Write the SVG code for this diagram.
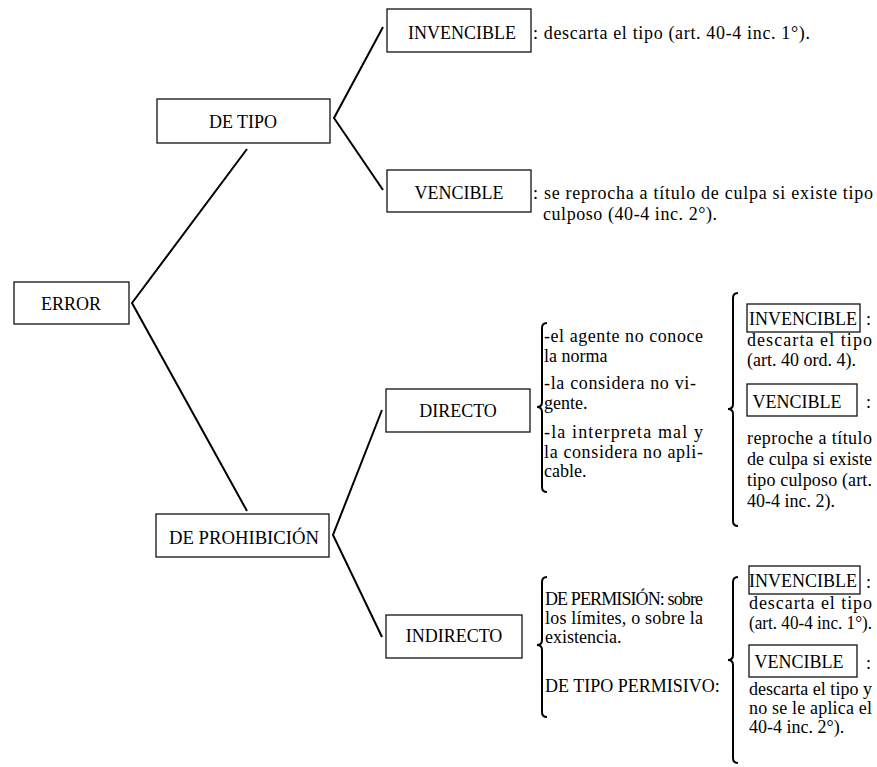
<svg xmlns="http://www.w3.org/2000/svg" width="877" height="767" viewBox="0 0 877 767">
<style>
.bg{fill:#fff}
.box{fill:#fff;stroke:#111;stroke-width:1.3}
.conn{fill:none;stroke:#000;stroke-width:2;stroke-linejoin:miter}
.brace{fill:none;stroke:#000;stroke-width:2}
text{font-family:"Liberation Serif","Times New Roman",serif;font-size:18px;fill:#000}
.lbl{text-anchor:middle}
.sm{font-size:17px}
</style>
<rect class="bg" x="0" y="0" width="877" height="767"/>
<g id="connectors">
<polyline class="conn" points="247,149 132,303 247,511"/>
<polyline class="conn" points="383,27 334,118 383,190"/>
<polyline class="conn" points="382,410 333,535 382,637"/>
</g>
<g id="error"><rect class="box" x="14" y="282" width="115" height="42"/><text class="lbl" x="71" y="310">ERROR</text></g>
<g id="de-tipo"><rect class="box" x="157" y="99" width="173" height="44"/><text class="lbl" x="243" y="128">DE TIPO</text></g>
<g id="invencible-tipo"><rect class="box" x="387" y="9" width="144" height="43"/><text class="lbl" x="462" y="39">INVENCIBLE</text>
<text x="533" y="39" textLength="277" lengthAdjust="spacing">: descarta el tipo (art. 40-4 inc. 1°).</text></g>
<g id="vencible-tipo"><rect class="box" x="387" y="170" width="144" height="42"/><text class="lbl" x="459" y="199">VENCIBLE</text>
<text x="533" y="199" textLength="340" lengthAdjust="spacing">: se reprocha a título de culpa si existe tipo</text>
<text x="543" y="220" textLength="174" lengthAdjust="spacing">culposo (40-4 inc. 2°).</text></g>
<g id="de-prohibicion"><rect class="box" x="156" y="514" width="173" height="43"/><text class="lbl" x="244" y="544" textLength="150" lengthAdjust="spacingAndGlyphs">DE PROHIBICIÓN</text></g>
<g id="directo"><rect class="box" x="386" y="389" width="144" height="43"/><text class="lbl" x="458" y="417">DIRECTO</text>
<path class="brace" d="M547,323 Q542,323 542,328 L542,402 Q542,407 537,407 Q542,407 542,412 L542,487 Q542,492 547,492"/>
<g class="sm">
<text x="544" y="342" textLength="159" lengthAdjust="spacing">-el agente no conoce</text>
<text x="544" y="362">la norma</text>
<text x="544" y="389" textLength="152" lengthAdjust="spacing">-la considera no vi-</text>
<text x="544" y="409">gente.</text>
<text x="544" y="438" textLength="159" lengthAdjust="spacing">-la interpreta mal y</text>
<text x="544" y="458" textLength="159" lengthAdjust="spacing">la considera no apli-</text>
<text x="544" y="477">cable.</text>
</g>
<path class="brace" d="M738,293 Q733,293 733,298 L733,404 Q733,409 728,409 Q733,409 733,414 L733,521 Q733,526 738,526"/>
<rect class="box" x="747" y="304" width="113" height="28"/><text class="lbl" x="803" y="325">INVENCIBLE</text><text x="866" y="325">:</text>
<g class="sm">
<text x="747" y="346" textLength="125" lengthAdjust="spacing">descarta el tipo</text>
<text x="747" y="366">(art. 40 ord. 4).</text>
</g>
<rect class="box" x="747" y="384" width="110" height="32"/><text class="lbl" x="797" y="408">VENCIBLE</text><text x="866" y="408">:</text>
<g class="sm">
<text x="747" y="444" textLength="125" lengthAdjust="spacing">reproche a título</text>
<text x="747" y="465" textLength="125" lengthAdjust="spacing">de culpa si existe</text>
<text x="747" y="486" textLength="125" lengthAdjust="spacing">tipo culposo (art.</text>
<text x="747" y="507">40-4 inc. 2).</text>
</g>
</g>
<g id="indirecto"><rect class="box" x="386" y="615" width="136" height="43"/><text class="lbl" x="454" y="642">INDIRECTO</text>
<path class="brace" d="M547,577 Q542,577 542,582 L542,640 Q542,645 537,645 Q542,645 542,650 L542,712 Q542,717 547,717"/>
<g class="sm">
<text x="545" y="605" font-size="16" textLength="158" lengthAdjust="spacing">DE PERMISIÓN: sobre</text>
<text x="545" y="624" textLength="158" lengthAdjust="spacing">los límites, o sobre la</text>
<text x="545" y="643">existencia.</text>
<text x="545" y="692">DE TIPO PERMISIVO:</text>
</g>
<path class="brace" d="M738,577 Q733,577 733,582 L733,655 Q733,660 728,660 Q733,660 733,665 L733,758 Q733,763 738,763"/>
<rect class="box" x="749" y="566" width="111" height="28"/><text class="lbl" x="803" y="587">INVENCIBLE</text><text x="866" y="588">:</text>
<g class="sm">
<text x="749" y="609" textLength="123" lengthAdjust="spacing">descarta el tipo</text>
<text x="749" y="629" textLength="123" lengthAdjust="spacingAndGlyphs">(art. 40-4 inc. 1°).</text>
</g>
<rect class="box" x="749" y="645" width="108" height="32"/><text class="lbl" x="799" y="668">VENCIBLE</text><text x="866" y="669">:</text>
<g class="sm">
<text x="749" y="695" textLength="123" lengthAdjust="spacing">descarta el tipo y</text>
<text x="749" y="714" textLength="123" lengthAdjust="spacing">no se le aplica el</text>
<text x="749" y="733">40-4 inc. 2°).</text>
</g>
</g>
</svg>
